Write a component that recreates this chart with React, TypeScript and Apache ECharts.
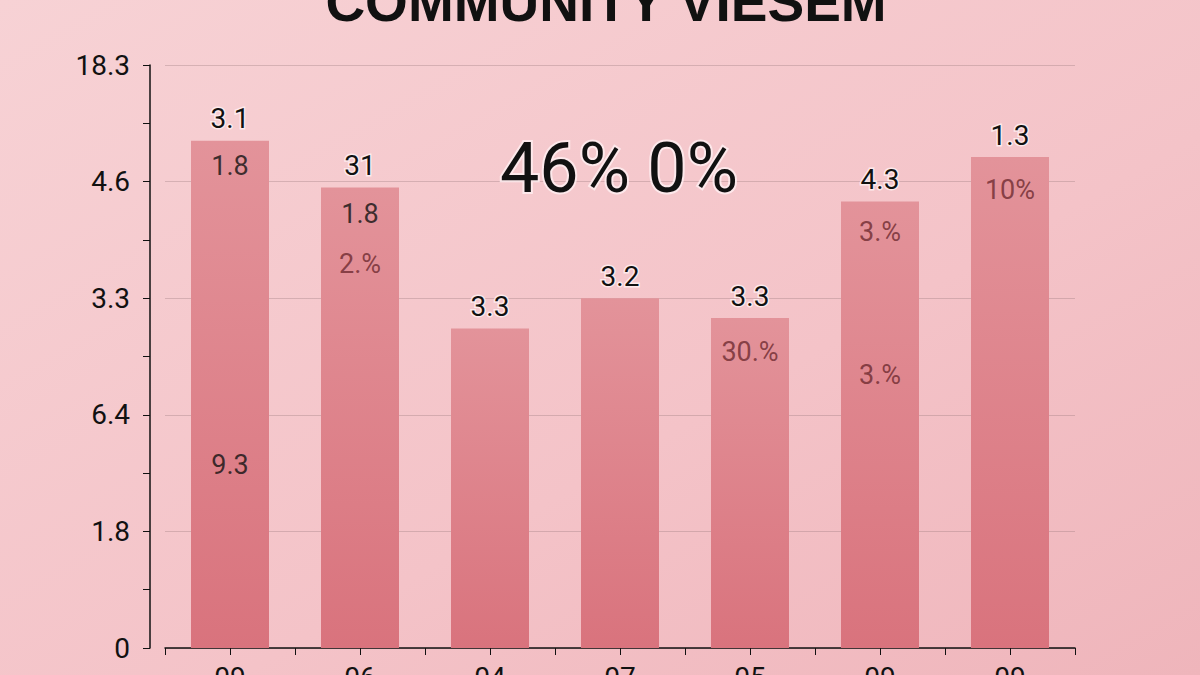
import React, { useEffect, useRef } from "react";
import * as echarts from "echarts";

const categories = ["09", "06", "04", "07", "05", "09", "09"];
const barValues = [4.35, 3.95, 2.74, 3.0, 2.83, 3.83, 4.21];
const topLabels = ["3.1", "31", "3.3", "3.2", "3.3", "4.3", "1.3"];
const yTickLabels = ["0", "1.8", "6.4", "3.3", "4.6", "18.3"];
// inner labels: [category index, y position (axis units), text, dark-red?]
const innerLabels: [number, number, string, number][] = [
  [0, 4.13, "1.8", 0],
  [0, 1.57, "9.3", 0],
  [1, 3.72, "1.8", 0],
  [1, 3.29, "2.%", 1],
  [4, 2.54, "30.%", 1],
  [5, 3.57, "3.%", 1],
  [5, 2.34, "3.%", 1],
  [6, 3.93, "10%", 1],
];
const titleText = "COMMUNITY VIESEM";
const centerText = "46% 0%";

const FONT = "Roboto, 'Noto Sans', sans-serif";

export default function App() {
  const ref = useRef<HTMLDivElement>(null);
  useEffect(() => {
    document.body.style.margin = "0";
    const chart = echarts.init(ref.current!, null, { renderer: "svg" });
    const halo = { textBorderColor: "rgba(255,240,242,0.85)", textBorderWidth: 3 };
    chart.setOption({
      animation: false,
      backgroundColor: new echarts.graphic.LinearGradient(0, 0, 1, 1, [
        { offset: 0, color: "#f7d2d5" },
        { offset: 0.6, color: "#f4c3c8" },
        { offset: 1, color: "#efb5bb" },
      ]),
      grid: { left: 165, right: 125, top: 65, bottom: 27, outerBoundsMode: "none", containLabel: false },
      xAxis: [
        {
          type: "category",
          data: categories,
          axisLine: { lineStyle: { color: "#111", width: 1.5 } },
          axisTick: { show: true, length: 7, lineStyle: { color: "#111" } },
          axisLabel: { color: "#111", fontSize: 28, fontFamily: FONT, margin: 15 },
          splitLine: { show: false },
        },
        {
          type: "category",
          data: categories,
          position: "bottom",
          axisLine: { show: false },
          axisTick: { show: true, alignWithLabel: true, length: 7, lineStyle: { color: "#111" } },
          axisLabel: { show: false },
        },
      ],
      yAxis: {
        type: "value",
        min: 0,
        max: 5,
        interval: 1,
        offset: 15,
        axisLine: { show: true, lineStyle: { color: "#111", width: 1.5 } },
        axisTick: { show: true, length: 7, lineStyle: { color: "#111" } },
        minorTick: { show: true, splitNumber: 2, length: 7, lineStyle: { color: "#111" } },
        axisLabel: {
          color: "#111",
          fontSize: 28,
          fontFamily: FONT,
          margin: 20,
          formatter: (v: number) => yTickLabels[Math.round(v)] ?? "",
        },
        splitLine: { show: true, lineStyle: { color: "rgba(140,110,112,0.3)", width: 1 } },
      },
      series: [
        {
          type: "bar",
          data: barValues,
          barWidth: 78,
          itemStyle: {
            color: new echarts.graphic.LinearGradient(0, 0, 0, 1, [
              { offset: 0, color: "#e3939a" },
              { offset: 1, color: "#d9737d" },
            ]),
          },
          label: {
            show: true,
            position: "top",
            distance: 8,
            color: "#111",
            fontSize: 28,
            fontFamily: FONT,
            ...halo,
            formatter: (p: any) => topLabels[p.dataIndex],
          },
        },
        {
          type: "scatter",
          symbolSize: 0,
          silent: true,
          data: innerLabels.map((d) => ({
            value: [d[0], d[1]],
            label: { color: d[3] ? "#6e2a30" : "#111" },
          })),
          label: {
            show: true,
            position: "inside",
            fontSize: 27,
            fontFamily: FONT,
            formatter: (p: any) => innerLabels[p.dataIndex][2],
          },
          z: 5,
        },
      ],
      graphic: [
        {
          type: "text",
          x: 606,
          y: 2,
          style: {
            text: titleText,
            font: "bold 55px 'Liberation Sans', Arial, sans-serif",
            fill: "#111",
            align: "center",
            verticalAlign: "middle",
          },
        },
        {
          type: "text",
          x: 619,
          y: 168,
          style: {
            text: centerText,
            font: `400 70px ${FONT}`,
            fill: "#111",
            align: "center",
            verticalAlign: "middle",
            stroke: "rgba(255,240,242,0.8)",
            lineWidth: 4,
          },
          z: 10,
        },
      ],
    });
    return () => chart.dispose();
  }, []);
  return <div ref={ref} style={{ width: 1200, height: 675 }} />;
}
